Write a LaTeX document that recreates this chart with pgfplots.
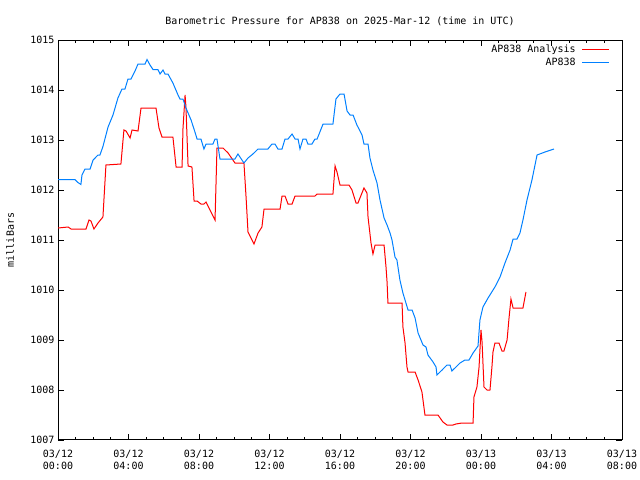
\documentclass[border=0pt]{standalone}
\usepackage{pgfplots}
\pgfplotsset{compat=1.18}
\usepackage{fontspec}
\setmainfont{DejaVu Sans Mono}
\definecolor{gpred}{RGB}{255,0,0}
\definecolor{gpblue}{RGB}{0,128,255}
\begin{document}
\begin{tikzpicture}[font=\fontsize{10bp}{11bp}\selectfont]
\useasboundingbox (0,0) rectangle (640bp,480bp);
\begin{axis}[
  at={(58bp,40bp)}, anchor=south west,
  scale only axis, width=564bp, height=400bp,
  xmin=0, xmax=32, ymin=1007, ymax=1015,
  xtick={0,4,...,32}, minor x tick num=3,
  xticklabels={{03/12\\00:00},{03/12\\04:00},{03/12\\08:00},{03/12\\12:00},{03/12\\16:00},{03/12\\20:00},{03/13\\00:00},{03/13\\04:00},{03/13\\08:00}},
  xticklabel style={align=center, font=\fontsize{10bp}{12bp}\selectfont, yshift=-7bp},
  yticklabel style={font=\fontsize{10bp}{11bp}\selectfont},
  ytick={1007,1008,...,1015},
  /pgf/number format/assume math mode=true,
  /pgf/number format/1000 sep={},
  tick align=inside, major tick length=6bp, minor tick length=3bp,
  tick style={black, line width=0.8bp},
  axis line style={black, line width=1bp},
  title={Barometric Pressure for AP838 on 2025-Mar-12 (time in UTC)},
  title style={font=\fontsize{10bp}{11bp}\selectfont, yshift=5bp},
  ylabel={milliBars},
  ylabel style={font=\fontsize{10bp}{11bp}\selectfont, at={(axis description cs:-0.085,0.5)}, anchor=center},
  legend plot pos=right, legend cell align=right,
  legend style={at={(1,1)}, anchor=north east, xshift=-9bp, yshift=-1bp, draw=none, fill=none,
    font=\fontsize{10bp}{11bp}\selectfont, row sep=0bp, column sep=4bp},
  legend image code/.code={\draw[#1, line width=1.2bp] (0bp,0bp) -- (27bp,0bp);},
]
\addplot[gpred, line width=1bp] coordinates {
(0,1011.24) (0.57,1011.26) (0.74,1011.22) (1.59,1011.22) (1.76,1011.4) (1.87,1011.38) (2.04,1011.22) (2.27,1011.34) (2.55,1011.46) (2.72,1012.5) (3.57,1012.52) (3.74,1013.2) (3.86,1013.18) (4.09,1013.04) (4.20,1013.2) (4.54,1013.18) (4.71,1013.64) (5.56,1013.64) (5.73,1013.24) (5.90,1013.06) (6.52,1013.06) (6.70,1012.46) (7.04,1012.46) (7.09,1013.22) (7.21,1013.9) (7.26,1013.66) (7.38,1012.48) (7.60,1012.46) (7.72,1011.78) (7.89,1011.78) (8.11,1011.72) (8.28,1011.72) (8.40,1011.76) (8.91,1011.4) (9.02,1012.84) (9.36,1012.84) (9.65,1012.74) (10.04,1012.54) (10.55,1012.54) (10.67,1011.86) (10.78,1011.16) (11.12,1010.92) (11.35,1011.14) (11.57,1011.26) (11.69,1011.62) (12.60,1011.62) (12.71,1011.88) (12.88,1011.88) (13.05,1011.72) (13.28,1011.72) (13.45,1011.88) (14.58,1011.88) (14.70,1011.92) (15.60,1011.92) (15.72,1012.48) (15.83,1012.36) (16.0,1012.1) (16.51,1012.1) (16.68,1012.0) (16.91,1011.74) (17.02,1011.74) (17.36,1012.04) (17.53,1011.94) (17.59,1011.46) (17.76,1010.94) (17.87,1010.72) (17.99,1010.9) (18.50,1010.9) (18.61,1010.46) (18.67,1010.16) (18.72,1009.74) (19.52,1009.74) (19.57,1009.26) (19.69,1008.94) (19.80,1008.46) (19.86,1008.36) (20.26,1008.36) (20.43,1008.2) (20.65,1007.96) (20.82,1007.5) (21.56,1007.5) (21.84,1007.36) (22.07,1007.3) (22.41,1007.3) (22.58,1007.32) (22.92,1007.34) (23.55,1007.34) (23.60,1007.86) (23.77,1008.06) (23.89,1008.46) (23.94,1008.8) (24.0,1009.2) (24.06,1008.96) (24.17,1008.06) (24.34,1008.0) (24.51,1008.0) (24.62,1008.46) (24.68,1008.76) (24.79,1008.94) (25.02,1008.94) (25.19,1008.78) (25.30,1008.78) (25.48,1009.0) (25.59,1009.44) (25.70,1009.82) (25.82,1009.64) (26.38,1009.64) (26.55,1009.96)
};
\addlegendentry{AP838 Analysis}
\addplot[gpblue, line width=1bp] coordinates {
(0,1012.21) (0.96,1012.21) (1.13,1012.15) (1.30,1012.11) (1.36,1012.3) (1.53,1012.42) (1.82,1012.42) (1.99,1012.6) (2.27,1012.7) (2.38,1012.7) (2.55,1012.87) (2.84,1013.26) (3.12,1013.5) (3.40,1013.84) (3.63,1014.02) (3.80,1014.02) (3.97,1014.22) (4.14,1014.22) (4.37,1014.38) (4.54,1014.52) (4.94,1014.52) (5.05,1014.61) (5.22,1014.5) (5.39,1014.41) (5.67,1014.41) (5.79,1014.32) (5.96,1014.4) (6.07,1014.32) (6.24,1014.32) (6.52,1014.14) (6.81,1013.9) (6.92,1013.82) (7.09,1013.82) (7.26,1013.64) (7.55,1013.4) (7.77,1013.16) (7.89,1013.02) (8.11,1013.02) (8.28,1012.82) (8.40,1012.92) (8.79,1012.92) (8.91,1013.02) (9.02,1013.02) (9.19,1012.62) (10.04,1012.62) (10.21,1012.72) (10.55,1012.54) (10.78,1012.64) (11.06,1012.72) (11.35,1012.82) (11.91,1012.82) (12.14,1012.92) (12.31,1012.92) (12.48,1012.82) (12.71,1012.82) (12.88,1013.02) (13.05,1013.02) (13.28,1013.12) (13.45,1013.02) (13.62,1013.02) (13.73,1012.82) (13.90,1013.02) (14.07,1013.02) (14.18,1012.92) (14.41,1012.92) (14.58,1013.02) (14.70,1013.02) (15.04,1013.32) (15.60,1013.32) (15.77,1013.82) (16.0,1013.92) (16.23,1013.92) (16.40,1013.58) (16.57,1013.5) (16.74,1013.5) (16.96,1013.3) (17.25,1013.1) (17.36,1012.92) (17.59,1012.92) (17.70,1012.64) (17.87,1012.4) (18.10,1012.14) (18.27,1011.8) (18.50,1011.44) (18.67,1011.3) (18.84,1011.14) (18.95,1011.0) (19.12,1010.66) (19.23,1010.6) (19.40,1010.2) (19.57,1009.94) (19.86,1009.6) (20.09,1009.6) (20.26,1009.44) (20.43,1009.14) (20.71,1008.9) (20.88,1008.86) (20.99,1008.7) (21.28,1008.56) (21.45,1008.46) (21.50,1008.3) (21.79,1008.4) (22.07,1008.5) (22.24,1008.5) (22.35,1008.38) (22.81,1008.54) (23.09,1008.6) (23.32,1008.6) (23.55,1008.74) (23.83,1008.88) (23.94,1009.4) (24.11,1009.66) (24.40,1009.84) (24.79,1010.06) (25.08,1010.26) (25.36,1010.54) (25.65,1010.8) (25.82,1011.02) (26.04,1011.02) (26.21,1011.14) (26.38,1011.4) (26.61,1011.8) (26.89,1012.2) (27.18,1012.7) (27.63,1012.76) (28.14,1012.82)
};
\addlegendentry{AP838}
\end{axis}
\end{tikzpicture}
\end{document}
